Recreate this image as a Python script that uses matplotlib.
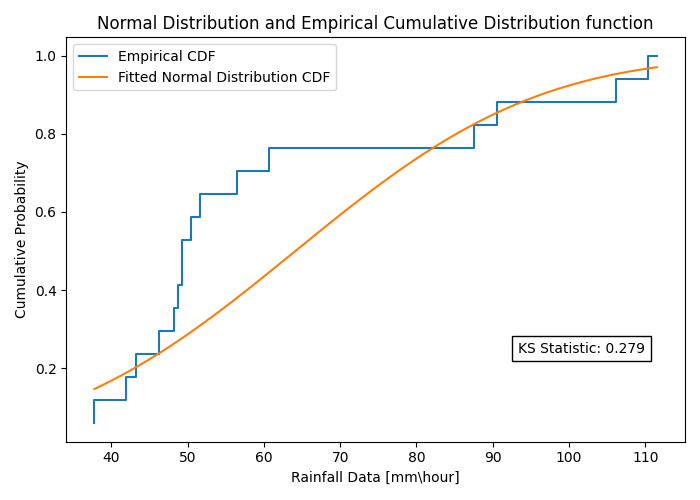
import numpy as np
import matplotlib.pyplot as plt
from math import erf

rainfall = np.array([37.8, 42.0, 43.2, 46.2, 48.2, 48.8, 49.3, 49.3, 50.5, 51.6,
                     56.5, 60.7, 87.5, 90.5, 106.2, 110.4, 111.5])
ks_stat = 0.279

data = np.sort(rainfall)
ecdf = np.arange(1, len(data) + 1) / len(data)

mu = data.mean()
sigma = data.std()
x = np.linspace(data.min(), data.max(), 200)
cdf = np.array([0.5 * (1 + erf((v - mu) / (sigma * np.sqrt(2)))) for v in x])

fig, ax = plt.subplots(figsize=(7, 5), dpi=100)
ax.step(data, ecdf, label='Empirical CDF')
ax.plot(x, cdf, label='Fitted Normal Distribution CDF')
ax.text(0.73, 0.22, f'KS Statistic: {ks_stat:.3f}', transform=ax.transAxes,
        bbox=dict(facecolor='white', edgecolor='black'))
ax.set(xlabel='Rainfall Data [mm\\hour]', ylabel='Cumulative Probability',
       title='Normal Distribution and Empirical Cumulative Distribution function')
ax.legend(loc='upper left')
fig.tight_layout()
fig.savefig('out.png')
